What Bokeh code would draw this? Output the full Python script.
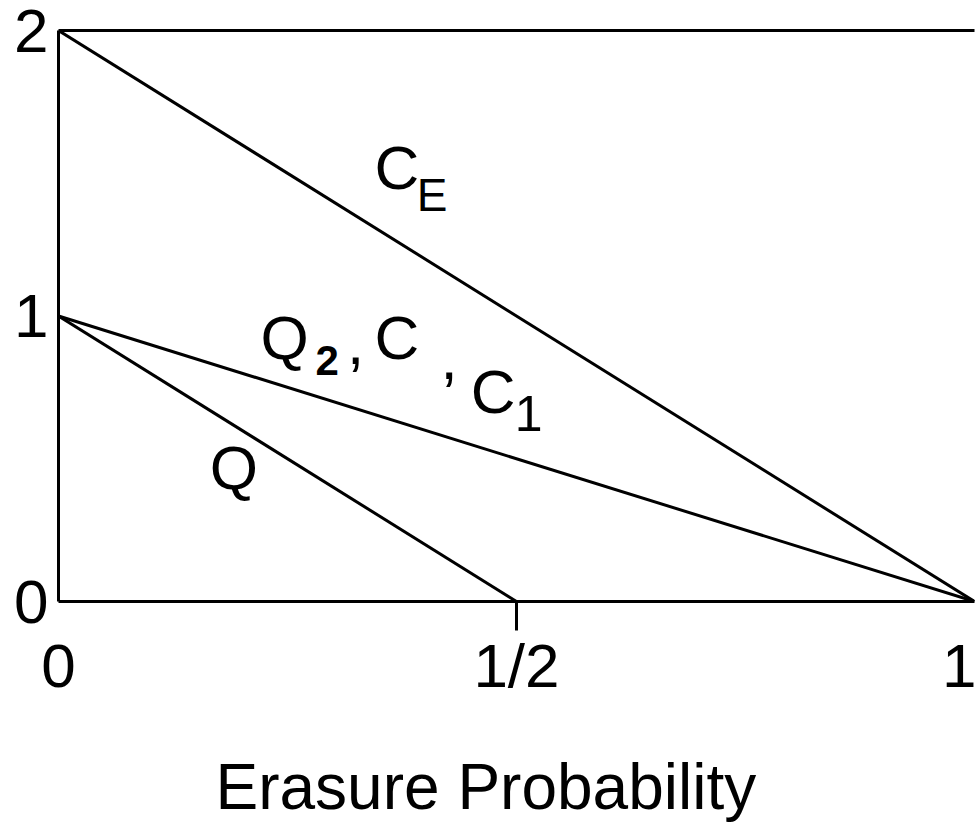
from bokeh.plotting import figure
from bokeh.models import Range1d, FixedTicker, LinearAxis, Label, Title
from bokeh.embed import file_html
from bokeh.resources import INLINE

# Capacities vs. erasure probability
erasure = [0.0, 1.0]
ce_cap = [2.0, 0.0]          # C_E
q2_cap = [1.0, 0.0]          # Q2, C, C1
q_erasure = [0.0, 0.5]
q_cap = [1.0, 0.0]           # Q

x_ticks = [0.0, 0.5, 1.0]
x_tick_labels = ["0", "1/2", "1"]
y_ticks = [0, 1, 2]
y_tick_labels = ["0", "1", "2"]

FONT = "Liberation Sans"
BIG = 62
LW = 3

p = figure(width=976, height=825, output_backend="svg", toolbar_location=None,
           x_range=Range1d(0, 1), y_range=Range1d(0, 2),
           min_border_left=58, min_border_right=2, min_border_top=30,
           min_border_bottom=224, background_fill_color="white",
           border_fill_color="white")
p.grid.visible = False
p.outline_line_color = None

# bottom axis: labels at 0, 1/2, 1 but a tick mark only at 1/2
xa = p.xaxis[0]
xa.ticker = FixedTicker(ticks=x_ticks, minor_ticks=[0.5])
xa.major_label_overrides = {t: s for t, s in zip(x_ticks, x_tick_labels)}
xa.major_tick_out = 0
xa.major_tick_in = 0
xa.major_tick_line_color = None
xa.minor_tick_out = 29
xa.minor_tick_in = 0
xa.minor_tick_line_width = LW
xa.minor_tick_line_color = "black"
xa.axis_line_width = LW
xa.axis_line_color = "black"
xa.major_label_standoff = 0
xa.major_label_text_font = FONT
xa.major_label_text_font_size = f"{BIG}px"
xa.major_label_text_color = "black"

ya = p.yaxis[0]
ya.ticker = FixedTicker(ticks=y_ticks, minor_ticks=[])
ya.major_label_overrides = {t: s for t, s in zip(y_ticks, y_tick_labels)}
ya.major_tick_out = 0
ya.major_tick_in = 0
ya.major_tick_line_color = None
ya.minor_tick_line_color = None
ya.axis_line_width = LW
ya.axis_line_color = "black"
ya.major_label_standoff = 10
ya.major_label_text_font = FONT
ya.major_label_text_font_size = f"{BIG}px"
ya.major_label_text_color = "black"

# top border line
top = LinearAxis(ticker=FixedTicker(ticks=[]), major_tick_line_color=None,
                 minor_tick_line_color=None, major_label_text_font_size="0px",
                 axis_line_width=LW, axis_line_color="black")
p.add_layout(top, "above")

# empty band between the tick labels and the axis title
gap = LinearAxis(ticker=FixedTicker(ticks=[0.5], minor_ticks=[]),
                 major_label_overrides={0.5: ""},
                 major_tick_out=46, major_tick_in=0,
                 major_tick_line_color=None, minor_tick_line_color=None,
                 major_label_standoff=0, major_label_text_font_size="0px",
                 axis_line_color=None)
p.add_layout(gap, "below")

for xs, ys in [(erasure, ce_cap), (erasure, q2_cap), (q_erasure, q_cap)]:
    p.line(xs, ys, line_color="black", line_width=LW)

PX_PER_UNIT = 285.5  # vertical pixels per data unit


def put(x, y, text, size=BIG, style="normal"):
    # lift proportional to font size so the glyph baseline sits at y
    lift = 0.4 * size / PX_PER_UNIT
    p.add_layout(Label(x=x, y=y + lift, text=text, text_font=FONT,
                       text_font_size=f"{size}px", text_font_style=style,
                       text_color="black", text_align="left",
                       text_baseline="alphabetic"))


# C_E
put(0.345, 1.435, "C")
put(0.391, 1.359, "E", size=46)
# Q2 , C , C1
put(0.2205, 0.837, "Q")
put(0.2806, 0.785, "2", size=42, style="bold")
put(0.315, 0.820, ",")
put(0.345, 0.837, "C")
put(0.417, 0.767, ",")
put(0.450, 0.648, "C")
put(0.498, 0.588, "1", size=50)
# Q
put(0.165, 0.382, "Q")

# axis title below the tick labels
p.add_layout(Title(text="Erasure Probability", align="left", offset=157,
                   standoff=0, text_font=FONT, text_font_size="64px",
                   text_font_style="normal", text_color="black"), "below")

open("out.html", "w").write(file_html(p, INLINE))
